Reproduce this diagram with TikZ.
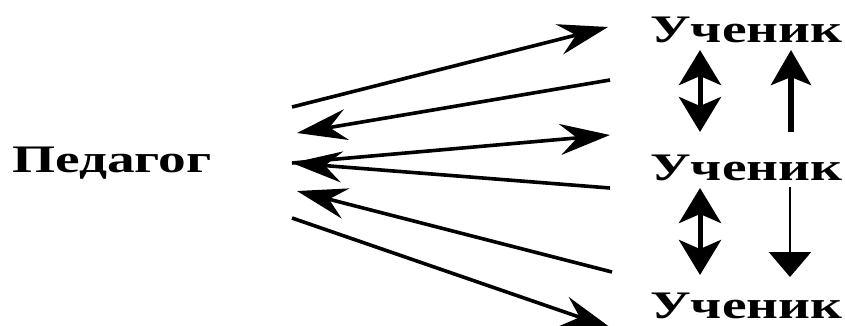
\documentclass[tikz,border=0pt]{standalone}
\usepackage{fontspec}
\setmainfont{Liberation Serif}
\usetikzlibrary{arrows.meta}
\newcommand{\widebold}[1]{\scalebox{1.42}[1]{#1}}
\tikzstyle{fan} = [line width=3.6pt,-{Stealth[length=50pt,width=31pt,inset=17pt]}]
\tikzstyle{both} = [line width=5pt,{Stealth[length=35pt,width=42pt,inset=9pt]}-{Stealth[length=35pt,width=42pt,inset=9pt]}]

\begin{document}
\begin{tikzpicture}[
    x=1pt, y=-1pt,
    word/.style={inner sep=0pt, anchor=base west, font=\fontsize{39pt}{39pt}\selectfont\bfseries},
    up/.style={line width=5.5pt, -{Stealth[length=35pt,width=40pt,inset=8pt]}},
    down/.style={line width=2.5pt, -{Triangle[length=25pt,width=42pt]}}
]
    \useasboundingbox (0,0) rectangle (845,325);
    \clip (0,0) rectangle (845,325);

    \node[word] (ped) at (12,172) {\widebold{Педагог}};
    \node[word] (uch1) at (650,42) {\widebold{Ученик}};
    \node[word] (uch2) at (650,180) {\widebold{Ученик}};
    \node[word] (uch3) at (650,318) {\widebold{Ученик}};

    % ends of the fan near the teacher
    \coordinate (p1) at (292,107);
    \coordinate (p2) at (297,133);
    \coordinate (p3) at (292,163);
    \coordinate (p5) at (297,191);
    \coordinate (p6) at (292,218);
    % ends of the fan near the pupils
    \coordinate (s1) at (608,27);
    \coordinate (s2) at (610,80);
    \coordinate (s3) at (610,135);
    \coordinate (s4) at (610,188);
    \coordinate (s5) at (612,272);
    \coordinate (s6) at (611,328);

    \draw[fan] (p1) -- (s1);
    \draw[fan] (s2) -- (p2);
    \draw[fan] (p3) -- (s3);
    \draw[fan] (s4) -- (p3);
    \draw[fan] (s5) -- (p5);
    \draw[fan] (p6) -- (s6);

    % between the pupils
    \coordinate (a1) at (700,50);
    \coordinate (a2) at (700,132);
    \coordinate (a3) at (700,188);
    \coordinate (a4) at (700,275);
    \coordinate (b1) at (791,132);
    \coordinate (b2) at (791,50);
    \coordinate (b3) at (790,187);
    \coordinate (b4) at (790,277);

    \draw[both] (a1) -- (a2);
    \draw[both] (a3) -- (a4);
    \draw[up] (b1) -- (b2);
    \draw[down] (b3) -- (b4);
\end{tikzpicture}
\end{document}
